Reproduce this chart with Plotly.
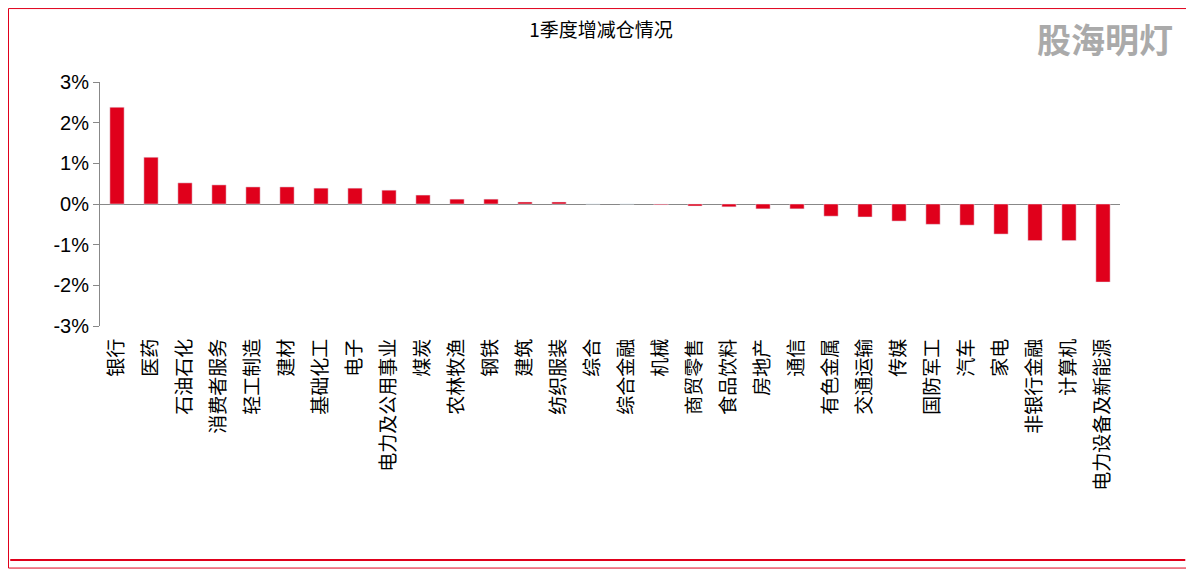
import plotly.graph_objects as go

categories = ["银行", "医药", "石油石化", "消费者服务", "轻工制造", "建材", "基础化工", "电子",
              "电力及公用事业", "煤炭", "农林牧渔", "钢铁", "建筑", "纺织服装", "综合", "综合金融",
              "机械", "商贸零售", "食品饮料", "房地产", "通信", "有色金属", "交通运输", "传媒",
              "国防军工", "汽车", "家电", "非银行金融", "计算机", "电力设备及新能源"]
values = [2.38, 1.15, 0.52, 0.47, 0.42, 0.42, 0.39, 0.39, 0.34, 0.22, 0.12, 0.12, 0.05, 0.05,
          0.0, 0.0, -0.02, -0.05, -0.07, -0.12, -0.12, -0.30, -0.32, -0.42, -0.50, -0.52,
          -0.74, -0.90, -0.90, -1.92]
tick_vals = [3, 2, 1, 0, -1, -2, -3]
tick_text = ["3%", "2%", "1%", "0%", "-1%", "-2%", "-3%"]

fig = go.Figure(go.Bar(x=categories, y=values, marker_color="#E0001B", width=0.42))

fig.update_layout(
    width=1186, height=564,
    paper_bgcolor="white", plot_bgcolor="white",
    margin=dict(l=92, r=74, t=74, b=246),
    showlegend=False,
    title=dict(text="1季度增减仓情况", x=0.5, xanchor="center", y=0.96, yanchor="middle",
               font=dict(family="Noto Sans CJK SC", size=19, color="black")),
    font=dict(family="Noto Sans CJK SC", color="black"),
    xaxis=dict(tickangle=-90, tickfont=dict(size=19), showline=False, ticks="",
               showgrid=False, zeroline=False, ticklabelstandoff=8),
    yaxis=dict(range=[-3, 3], tickvals=tick_vals, ticktext=tick_text,
               tickfont=dict(family="Liberation Sans", size=20),
               showgrid=False, zeroline=True, zerolinecolor="#888", zerolinewidth=1,
               showline=True, linecolor="#888", ticks="outside", ticklen=6, tickcolor="#888"),
    shapes=[
        dict(type="rect", xref="paper", yref="paper", x0=-0.0897, x1=1.0676, y0=-0.992, y1=1.301,
             line=dict(color="#E0001B", width=1)),
        dict(type="line", xref="paper", yref="paper", x0=-0.088, x1=1.064, y0=-0.959, y1=-0.959,
             line=dict(color="#E0001B", width=2)),
    ],
    annotations=[dict(text="<b>股海明灯</b>", xref="paper", yref="paper", x=1.054, y=1.287,
                      xanchor="right", yanchor="top", showarrow=False,
                      font=dict(family="Noto Sans CJK SC", size=34, color="#aaa"))],
)

fig.write_html("out.html")
